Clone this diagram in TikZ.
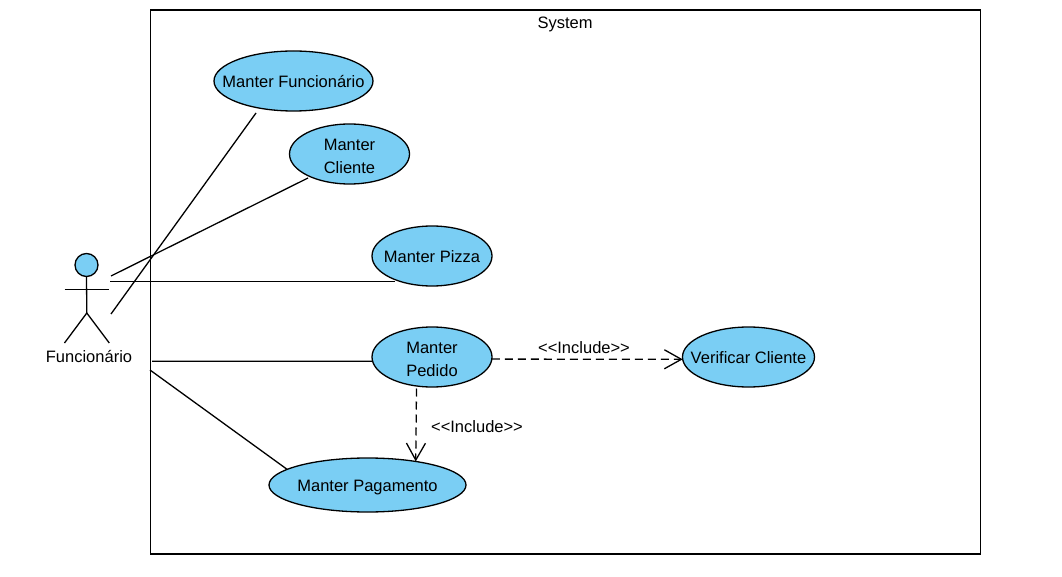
\documentclass[tikz,border=0pt]{standalone}
\usepackage{fontspec}
\setmainfont{Liberation Sans}
\usetikzlibrary{shapes.geometric,arrows.meta}
\definecolor{ucfill}{HTML}{7ACEF4}
\tikzset{
  usecase/.style={ellipse,draw=black,fill=ucfill,line width=1.3pt,inner sep=0pt,outer sep=0pt},
  uctext/.style={inner sep=0pt,outer sep=0pt,align=center,font=\fontsize{16.5}{23}\selectfont},
  lbl/.style={inner sep=0pt,outer sep=0pt,font=\fontsize{16.5}{20}\selectfont},
  assoc/.style={draw=black,line width=1.3pt},
  incl/.style={draw=black,line width=1.3pt,dash pattern=on 8pt off 5pt,-{Straight Barb[length=17pt,width=19pt,line width=1.3pt]}},
  stick/.style={draw=black,line width=1.3pt}
}
\begin{document}
\begin{tikzpicture}[x=1pt,y=-1pt]
\useasboundingbox (0,0) rectangle (1062,577);
\node[draw=black,line width=1.3pt,minimum width=830pt,minimum height=544pt,inner sep=0pt,outer sep=0pt] (system) at (565.5,282) {};
\node[lbl] (systemlabel) at (565,24.5) {System};
\node[usecase,minimum width=159pt,minimum height=60pt,label={[uctext,yshift=-1pt]center:Manter Funcionário}] (func) at (293.5,81) {};
\node[usecase,minimum width=120pt,minimum height=60pt,label={[uctext,yshift=-2pt]center:Manter\\Cliente}] (cliente) at (349.5,154) {};
\node[usecase,minimum width=120pt,minimum height=60pt,label={[uctext,yshift=-0.7pt]center:Manter Pizza}] (pizza) at (432,256) {};
\node[usecase,minimum width=120pt,minimum height=60pt,label={[uctext,yshift=-2pt]center:Manter\\Pedido}] (pedido) at (432,357) {};
\node[usecase,minimum width=132pt,minimum height=60pt,label={[uctext,yshift=-1pt]center:Verificar Cliente}] (verif) at (748.5,357) {};
\node[usecase,minimum width=197pt,minimum height=54pt,label={[uctext,yshift=-2.8pt]center:Manter Pagamento}] (pag) at (367.5,485) {};
% actor
\node[circle,draw=black,fill=ucfill,line width=1.3pt,minimum size=23pt,inner sep=0pt,outer sep=0pt] (head) at (86.5,265) {};
\coordinate (hip) at (86.8,313);
\coordinate (armL) at (64.5,289.2);
\coordinate (armR) at (109.3,289.2);
\coordinate (legL) at (64.5,343);
\coordinate (legR) at (109.3,343);
\draw[stick] (head.south) -- (hip);
\draw[stick] (armL) -- (armR);
\draw[stick] (legL) -- (hip) -- (legR);
\node[lbl] (actorlabel) at (89,356.5) {Funcionário};
% associations
\coordinate (a1) at (111,314);
\coordinate (e1) at (256,113);
\coordinate (a2) at (111,276);
\coordinate (e2) at (308,178);
\coordinate (a3) at (110,281.2);
\coordinate (e3) at (395,281.2);
\coordinate (b4) at (152,361.2);
\coordinate (b5) at (150,370);
\draw[assoc] (a1) -- (e1);
\draw[assoc] (a2) -- (e2);
\draw[assoc] (a3) -- (e3);
\draw[assoc] (b4) -- (pedido.184);
\draw[assoc] (b5) -- (pag.169.6);
% includes
\draw[incl] (pedido.-2) -- (verif.182);
\coordinate (d1) at (416.5,388.5);
\draw[incl] (d1) -- (pag.26.1);
\node[lbl] (inc1) at (584,347.5) {<{}<Include>{}>};
\node[lbl] (inc2) at (477,426.5) {<{}<Include>{}>};
\end{tikzpicture}
\end{document}
